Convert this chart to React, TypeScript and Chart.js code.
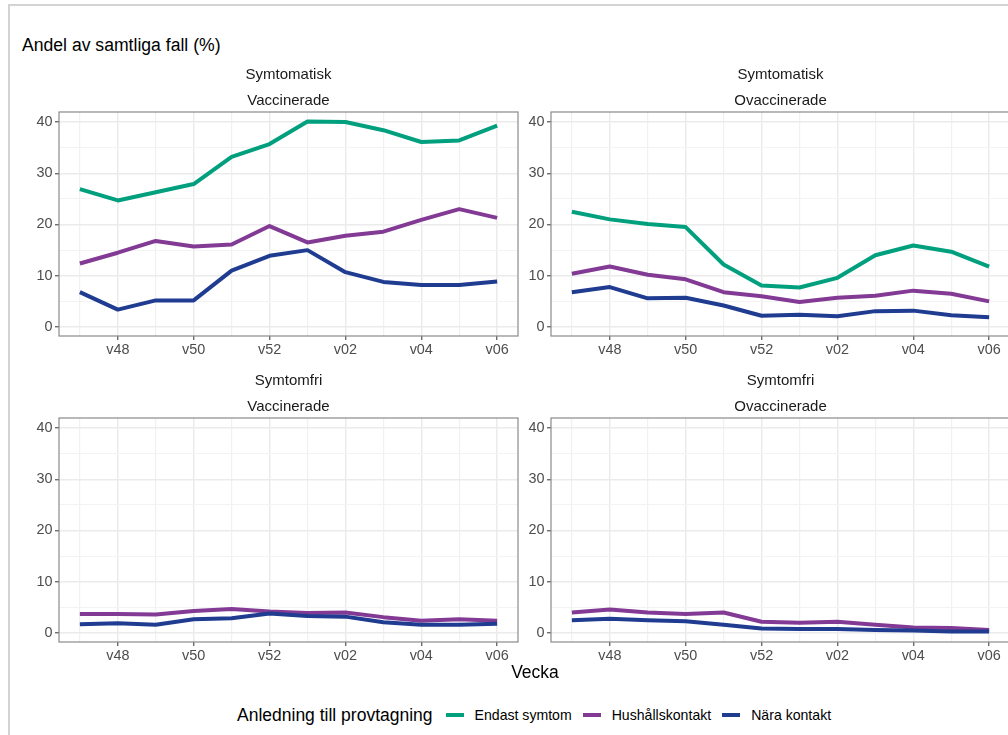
import { useEffect, useRef } from "react";
import { Chart, registerables } from "chart.js";

Chart.register(...registerables);

// Weekly categories on the shared x axis
const weeks = ["v47", "v48", "v49", "v50", "v51", "v52", "v01", "v02", "v03", "v04", "v05", "v06"];

// Series (reason for testing)
const seriesNames = ["Endast symtom", "Hushållskontakt", "Nära kontakt"];
const seriesColors = ["#00A07E", "#833A95", "#1F3C91"];

// Symtomatisk – Vaccinerade
const symVaccEndast = [26.9, 24.7, 26.3, 27.9, 33.2, 35.7, 40.1, 40.0, 38.4, 36.1, 36.4, 39.3];
const symVaccHushall = [12.4, 14.5, 16.8, 15.7, 16.1, 19.7, 16.5, 17.8, 18.6, 20.9, 23.0, 21.3];
const symVaccNara = [6.8, 3.4, 5.2, 5.2, 11.0, 13.9, 15.0, 10.7, 8.8, 8.2, 8.2, 8.9];

// Symtomatisk – Ovaccinerade
const symOvaccEndast = [22.5, 21.0, 20.1, 19.5, 12.2, 8.1, 7.7, 9.6, 14.0, 15.9, 14.7, 11.8];
const symOvaccHushall = [10.4, 11.8, 10.2, 9.3, 6.8, 6.0, 4.9, 5.7, 6.1, 7.1, 6.5, 5.0];
const symOvaccNara = [6.8, 7.8, 5.6, 5.7, 4.2, 2.2, 2.4, 2.1, 3.1, 3.2, 2.3, 1.9];

// Symtomfri – Vaccinerade
const friVaccHushall = [3.7, 3.7, 3.6, 4.3, 4.7, 4.2, 3.9, 4.0, 3.1, 2.4, 2.7, 2.4];
const friVaccNara = [1.7, 1.9, 1.6, 2.7, 2.9, 3.8, 3.3, 3.2, 2.1, 1.6, 1.6, 1.8];

// Symtomfri – Ovaccinerade
const friOvaccHushall = [4.0, 4.6, 4.0, 3.7, 4.0, 2.2, 2.0, 2.2, 1.6, 1.1, 1.0, 0.6];
const friOvaccNara = [2.5, 2.8, 2.5, 2.3, 1.6, 0.9, 0.8, 0.8, 0.6, 0.5, 0.3, 0.3];

// Y axis breaks
const yTicks = [0, 10, 20, 30, 40];
const yMinorTicks = [5, 15, 25, 35];

const titleText = "Andel av samtliga fall (%)";
const xTitle = "Vecka";
const legendTitle = "Anledning till provtagning";

const FONT = "'Liberation Sans', Arial, Helvetica, sans-serif";

type PanelSpec = {
  strip: string[];
  series: (number[] | null)[];
  left: number;
  top: number;
};

const panels: PanelSpec[] = [
  { strip: ["Symtomatisk", "Vaccinerade"], series: [symVaccEndast, symVaccHushall, symVaccNara], left: 13, top: 55 },
  { strip: ["Symtomatisk", "Ovaccinerade"], series: [symOvaccEndast, symOvaccHushall, symOvaccNara], left: 505, top: 55 },
  { strip: ["Symtomfri", "Vaccinerade"], series: [null, friVaccHushall, friVaccNara], left: 13, top: 361 },
  { strip: ["Symtomfri", "Ovaccinerade"], series: [null, friOvaccHushall, friOvaccNara], left: 505, top: 361 },
];

const CANVAS_W = 517;
const CANVAS_H = 319;

// Panel border on top of the data and the two-line strip label above it
const facetPlugin = {
  id: "facet",
  afterDatasetsDraw(chart: any) {
    const { ctx, chartArea: a } = chart;
    ctx.save();
    ctx.strokeStyle = "#8a8a8a";
    ctx.lineWidth = 1.2;
    ctx.strokeRect(a.left, a.top, a.right - a.left, a.bottom - a.top);
    ctx.restore();
  },
  afterDraw(chart: any, _args: any, opts: any) {
    const { ctx, chartArea: a } = chart;
    const lines: string[] = opts.lines || [];
    const cx = (a.left + a.right) / 2;
    ctx.save();
    ctx.fillStyle = "#1a1a1a";
    ctx.font = `15px ${FONT}`;
    ctx.textAlign = "center";
    ctx.textBaseline = "alphabetic";
    if (lines[0]) ctx.fillText(lines[0], cx, a.top - 33);
    if (lines[1]) ctx.fillText(lines[1], cx, a.top - 7);
    ctx.restore();
  },
};

function Panel({ spec }: { spec: PanelSpec }) {
  const ref = useRef<HTMLCanvasElement | null>(null);

  useEffect(() => {
    if (!ref.current) return;
    const datasets: any[] = [];
    spec.series.forEach((vals, si) => {
      if (!vals) return;
      datasets.push({
        label: seriesNames[si],
        data: vals.map((v, i) => ({ x: i, y: v })),
        borderColor: seriesColors[si],
        backgroundColor: seriesColors[si],
        borderWidth: 4,
        pointRadius: 0,
        tension: 0,
        borderCapStyle: "butt",
        borderJoinStyle: "round",
        order: seriesNames.length - si,
      });
    });

    const chart = new Chart(ref.current, {
      type: "line",
      data: { datasets },
      plugins: [facetPlugin],
      options: {
        animation: false,
        responsive: false,
        devicePixelRatio: 1,
        layout: { padding: { left: 2, right: 12, top: 57, bottom: 8 } },
        plugins: {
          legend: { display: false },
          tooltip: { enabled: false },
          facet: { lines: spec.strip },
        } as any,
        scales: {
          x: {
            type: "linear",
            min: -0.55,
            max: 11.55,
            afterBuildTicks: (s: any) => {
              s.ticks = weeks.map((_, i) => ({ value: i }));
            },
            afterFit: (s: any) => {
              s.height = 30;
            },
            border: { display: false },
            grid: {
              color: (c: any) => (c.tick && c.tick.value % 2 === 1 ? "#ebebeb" : "#f1f1f1"),
              lineWidth: (c: any) => (c.tick && c.tick.value % 2 === 1 ? 1.5 : 1.2),
              tickLength: 4,
              tickColor: (c: any) => (c.tick && c.tick.value % 2 === 1 ? "#555555" : "rgba(0,0,0,0)"),
              tickWidth: 1.2,
            },
            ticks: {
              autoSkip: false,
              maxRotation: 0,
              padding: 1.5,
              color: "#4d4d4d",
              font: { family: FONT, size: 14.4 },
              callback: (v: any) => (Number(v) % 2 === 1 ? weeks[Number(v)] : ""),
            },
          },
          y: {
            type: "linear",
            min: -1.75,
            max: 41.95,
            afterBuildTicks: (s: any) => {
              s.ticks = [...yTicks, ...yMinorTicks].sort((a, b) => a - b).map((v) => ({ value: v }));
            },
            afterFit: (s: any) => {
              s.width = 44;
            },
            border: { display: false },
            grid: {
              color: (c: any) => (c.tick && yTicks.includes(c.tick.value) ? "#ebebeb" : "#f3f3f3"),
              lineWidth: (c: any) => (c.tick && yTicks.includes(c.tick.value) ? 1.5 : 1),
              tickLength: 4,
              tickColor: (c: any) => (c.tick && yTicks.includes(c.tick.value) ? "#555555" : "rgba(0,0,0,0)"),
              tickWidth: 1.2,
            },
            ticks: {
              padding: 2.5,
              color: "#4d4d4d",
              font: { family: FONT, size: 14.4 },
              callback: (v: any) => (yTicks.includes(Number(v)) ? String(v) : ""),
            },
          },
        },
      } as any,
    });
    return () => chart.destroy();
  }, [spec]);

  return (
    <canvas
      ref={ref}
      width={CANVAS_W}
      height={CANVAS_H}
      style={{ position: "absolute", left: spec.left, top: spec.top, width: CANVAS_W, height: CANVAS_H }}
    />
  );
}

export default function App() {
  return (
    <div
      style={{
        position: "fixed",
        left: 0,
        top: 0,
        width: 1008,
        height: 735,
        overflow: "hidden",
        background: "#ffffff",
        fontFamily: FONT,
      }}
    >
      <div
        style={{
          position: "absolute",
          left: 8,
          top: 4,
          width: 1100,
          height: 800,
          border: "2px solid #d3d3d3",
          boxSizing: "border-box",
        }}
      />
      <div
        style={{
          position: "absolute",
          left: 22,
          top: 35,
          fontSize: 17.6,
          lineHeight: "20px",
          color: "#000",
          whiteSpace: "nowrap",
        }}
      >
        {titleText}
      </div>

      {panels.map((p, i) => (
        <Panel key={i} spec={p} />
      ))}

      <div
        style={{
          position: "absolute",
          left: 435,
          top: 662,
          width: 200,
          textAlign: "center",
          fontSize: 17.5,
          lineHeight: "20px",
          color: "#000",
        }}
      >
        {xTitle}
      </div>

      <div
        style={{
          position: "absolute",
          left: 237,
          top: 705,
          height: 20,
          display: "flex",
          alignItems: "center",
          whiteSpace: "nowrap",
        }}
      >
        <span style={{ fontSize: 17.5, lineHeight: "20px", marginRight: 13, color: "#000" }}>{legendTitle}</span>
        {seriesNames.map((name, i) => (
          <span key={name} style={{ display: "flex", alignItems: "center", marginRight: 11 }}>
            <span
              style={{
                display: "inline-block",
                width: 18,
                height: 4,
                background: seriesColors[i],
                marginRight: 11,
              }}
            />
            <span style={{ fontSize: 14.1, lineHeight: "20px", color: "#000" }}>{name}</span>
          </span>
        ))}
      </div>
    </div>
  );
}
